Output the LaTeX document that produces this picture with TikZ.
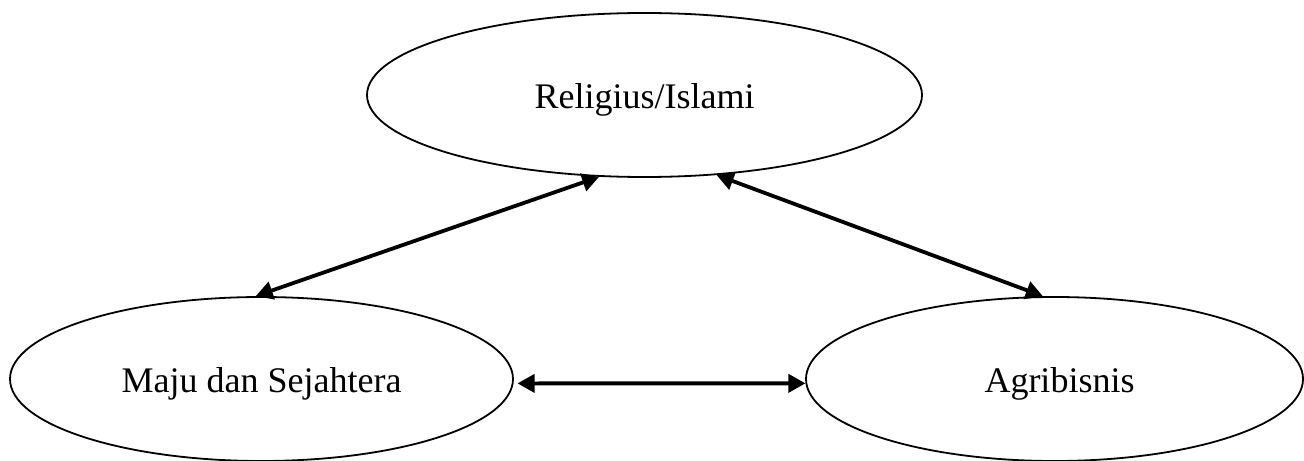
\documentclass[tikz,border=0pt]{standalone}
\usepackage{fontspec}
\setmainfont{Liberation Serif}
\usetikzlibrary{shapes.geometric,arrows.meta}
\begin{document}
\begin{tikzpicture}[x=0.5pt,y=-0.5pt,
  value/.style={ellipse,draw,line width=0.9pt,inner sep=0pt,
    text height=17pt,text depth=4pt,
    font=\fontsize{18}{22}\selectfont},
  link/.style={line width=1.9pt,
    {Triangle[length=8.5pt,width=9pt]}-{Triangle[length=8.5pt,width=9pt]}}]
  \useasboundingbox (0,0) rectangle (1304,460);
  \node[value,minimum width=277.5pt,minimum height=82pt] (rel) at (644.5,95) {Religius/Islami};
  \node[value,minimum width=251.5pt,minimum height=82pt] (maju) at (261.5,379) {Maju dan Sejahtera};
  \node[value,minimum width=248.5pt,minimum height=82pt] (agri) at (1054.5,379) {\hspace*{5pt}Agribisnis};
  \draw[link] (maju.94.5) -- (rel.241.8);
  \draw[link] (rel.312.3) -- (agri.98.7);
  \draw[link] ([xshift=2pt]maju.-1.2) -- (agri.181.2);
\end{tikzpicture}
\end{document}
